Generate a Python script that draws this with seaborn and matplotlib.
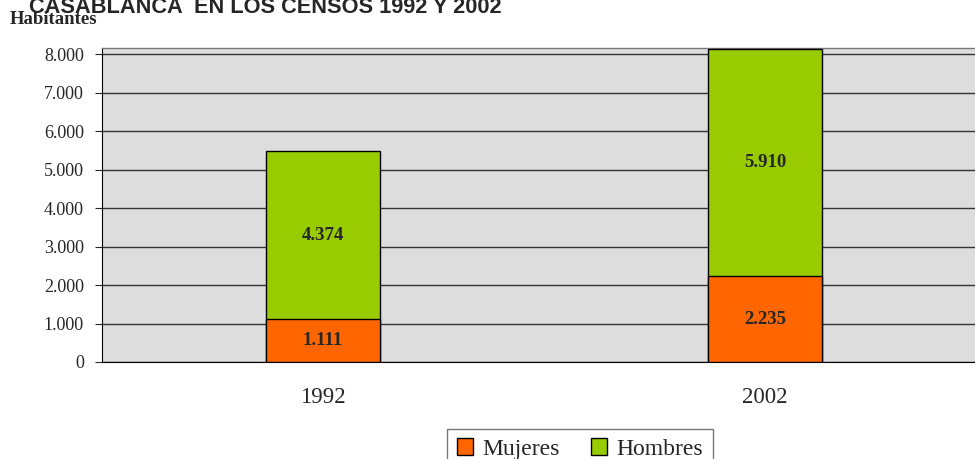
import matplotlib
matplotlib.use("Agg")
import matplotlib.pyplot as plt
import seaborn as sns
import pandas as pd
from matplotlib.patches import Patch

# Data
years = ["1992", "2002"]
mujeres = [1111, 2235]
hombres = [4374, 5910]
yticks = [0, 1000, 2000, 3000, 4000, 5000, 6000, 7000, 8000]

color_m = "#FF6600"
color_h = "#99CC00"

def fmt(v):
    return f"{v:,}".replace(",", ".")

df = pd.DataFrame({"year": years, "mujeres": mujeres, "hombres": hombres})
df["total"] = df["mujeres"] + df["hombres"]

sns.set_style("white")
plt.rcParams["font.family"] = ["Liberation Serif", "DejaVu Serif"]

fig = plt.figure(figsize=(9.75, 4.59), dpi=100)
ax = fig.add_axes([102 / 975, 97 / 459, 884 / 975, 313.5 / 459])
ax.set_facecolor("#DDDDDD")

# green = total height, orange drawn over the bottom part
sns.barplot(data=df, x="year", y="total", color=color_h, saturation=1, width=0.26,
            edgecolor="black", linewidth=1, ax=ax, zorder=3)
sns.barplot(data=df, x="year", y="mujeres", color=color_m, saturation=1, width=0.26,
            edgecolor="black", linewidth=1, ax=ax, zorder=4)

ax.set_ylim(0, 8150)
ax.set_xlim(-0.5, 1.5)
ax.set_yticks(yticks)
ax.set_yticklabels([fmt(v) for v in yticks], fontsize=13)
for v in yticks:
    ax.axhline(v, color="#333333", lw=1, zorder=1)

ax.set_xticks([0, 1])
ax.set_xticklabels(years, fontsize=16.5)
ax.set_xticks([-0.5, 0.5, 1.5], minor=True)
ax.tick_params(axis="x", which="major", length=0, pad=18)
ax.tick_params(axis="x", which="minor", length=5, width=0.8, direction="out")
ax.tick_params(axis="y", length=5, width=0.8, direction="out", pad=8, left=True)
ax.set_xlabel("")
ax.set_ylabel("")

for s in ["left", "bottom"]:
    ax.spines[s].set_color("black")
    ax.spines[s].set_linewidth(0.8)
ax.spines["top"].set_color("#777777")
ax.spines["top"].set_linewidth(1)
ax.spines["right"].set_visible(False)

for i in range(len(years)):
    ax.text(i, mujeres[i] / 2, fmt(mujeres[i]), ha="center", va="center",
            fontsize=13.5, fontweight="bold", zorder=5)
    ax.text(i, mujeres[i] + hombres[i] / 2, fmt(hombres[i]), ha="center",
            va="center", fontsize=13.5, fontweight="bold", zorder=5)

fig.text(0.272, 1 - 13 / 459, "CASABLANCA  EN LOS CENSOS 1992 Y 2002", ha="center",
         va="baseline", fontsize=15.7, fontweight="bold",
         family=["Liberation Sans", "DejaVu Sans"])
fig.text(10 / 975, 1 - 19 / 459, "Habitantes", ha="left", va="center",
         fontsize=13.5, fontweight="bold")

handles = [Patch(facecolor=color_m, edgecolor="black", label="Mujeres"),
           Patch(facecolor=color_h, edgecolor="black", label="Hombres")]
fig.legend(handles=handles, loc="upper center", bbox_to_anchor=(580 / 975, 1 - 429 / 459),
           ncol=2, fontsize=17, frameon=True, fancybox=False, edgecolor="#555555",
           handlelength=0.7, handleheight=0.7, handletextpad=0.4, columnspacing=1.3,
           borderpad=0.4, borderaxespad=0)

fig.savefig("out.png", dpi=100)
